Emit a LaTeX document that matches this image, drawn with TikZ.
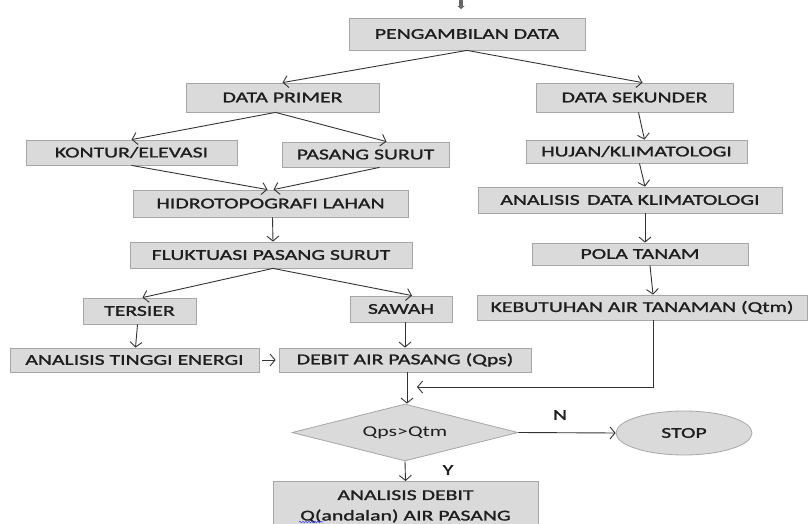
\documentclass[tikz,border=0pt]{standalone}
\usepackage{fontspec}
\setmainfont{Carlito}[FakeStretch=1.45]
\newfontfamily\boxfont{Carlito}[FakeStretch=1.45, FakeBold=1.3]
\usetikzlibrary{arrows.meta,shapes.geometric,decorations.pathmorphing}
\definecolor{boxfill}{HTML}{DADADA}
\definecolor{boxline}{HTML}{A6A6A6}
\definecolor{conn}{HTML}{333333}
\definecolor{txt}{HTML}{1E1E1E}
\begin{document}
\begin{tikzpicture}[x=1pt,y=-1pt,
  box/.style={draw=boxline, fill=boxfill, line width=0.8pt, inner sep=0pt,
    text=txt, font=\boxfont\fontsize{15}{20.5}\selectfont, align=center},
  arr/.style={draw=conn, line width=0.9pt, -{Straight Barb[length=5pt,width=12pt]}},
  lbl/.style={text=txt, font=\boxfont\fontsize{15}{17}\selectfont, inner sep=0pt}]
\useasboundingbox (0,0) rectangle (809,524);

\node[box, minimum width=236pt, minimum height=32pt] (pd) at (467,34) {PENGAMBILAN DATA};
\node[box, minimum width=193pt, minimum height=29pt] (prim) at (282.5,97.5) {DATA PRIMER};
\node[box, minimum width=197pt, minimum height=29pt] (sek) at (634.5,97.5) {DATA SEKUNDER};
\node[box, minimum width=211pt, minimum height=25pt] (kon) at (131.5,152.5) {KONTUR/ELEVASI};
\node[box, minimum width=167pt, minimum height=25pt] (ps) at (365.5,154.5) {PASANG SURUT};
\node[box, minimum width=275pt, minimum height=27pt] (hid) at (270.5,203.5) {HIDROTOPOGRAFI LAHAN};
\node[box, minimum width=282pt, minimum height=26pt] (fluk) at (271,255) {FLUKTUASI PASANG SURUT};
\node[box, minimum width=221pt, minimum height=23pt] (huj) at (636.5,151.5) {HUJAN/KLIMATOLOGI};
\node[box, minimum width=304pt, minimum height=26pt] (akl) at (630,200) {ANALISIS\enspace DATA KLIMATOLOGI};
\node[box, minimum width=216pt, minimum height=22pt] (pola) at (640,254) {POLA TANAM};
\node[box, minimum width=330pt, minimum height=25pt] (keb) at (642,307.5) {KEBUTUHAN AIR TANAMAN (Qtm)};
\node[box, minimum width=113pt, minimum height=26pt] (ters) at (139.5,311) {TERSIER};
\node[box, minimum width=102pt, minimum height=26pt] (saw) at (401,309) {SAWAH};
\node[box, minimum width=249pt, minimum height=24pt] (ati) at (134.5,360) {ANALISIS TINGGI ENERGI};
\node[box, minimum width=252pt, minimum height=24pt] (deb) at (405,360) {DEBIT AIR PASANG (Qps)};
\node[box, diamond, aspect=3.96, minimum width=226pt, minimum height=57pt,
  font=\rmfamily\fontsize{15}{17}\selectfont] (dia) at (405,432.5) {Qps>Qtm};
\node[box, ellipse, minimum width=136pt, minimum height=44pt] (stop) at (684,433) {STOP};
\node[box, minimum width=265pt, minimum height=50pt, anchor=north] (an) at (405.5,481) {ANALISIS DEBIT\\Q(andalan) AIR PASANG};

\node[lbl] (nl) at (560,415) {N};
\node[lbl] (yl) at (448,470) {Y};

\coordinate (t1) at (461,0);
\coordinate (t2) at (461,9);
\draw[line width=3.2pt, draw=gray!80!black, -{Triangle[length=3pt,width=7pt]}] (t1) -- (t2);

\draw[arr] (pd.south) -- (prim.north);
\draw[arr] (pd.south) -- ([xshift=8pt]sek.north);
\draw[arr] ([xshift=-7pt]prim.south) -- (kon.north);
\draw[arr] ([xshift=-7pt]prim.south) -- ([xshift=21pt]ps.north);
\draw[arr] (kon.south) -- ([xshift=-3pt]hid.north);
\draw[arr] ([xshift=14pt]ps.south) -- ([xshift=3pt]hid.north);
\draw[arr] ([xshift=2pt]hid.south) -- ([xshift=2pt]fluk.north);
\draw[arr] ([xshift=2pt]fluk.south) -- ([xshift=3pt]ters.north);
\draw[arr] ([xshift=2pt]fluk.south) -- ([xshift=11pt]saw.north);
\draw[arr] ([xshift=-2pt]ters.south) -- ([xshift=1pt]ati.north);
\draw[arr] ([xshift=4pt]saw.south) -- (deb.north);
\draw[arr] ([xshift=3pt]ati.east) -- ([xshift=-3pt]deb.west);
\draw[arr] ([xshift=2pt]deb.south) -- ([xshift=2pt]dia.north);
\draw[arr] ([xshift=4pt]sek.south) -- ([xshift=8pt]huj.north);
\draw[arr] ([xshift=3pt]huj.south) -- ([xshift=15pt]akl.north);
\draw[arr] ([xshift=15pt]akl.south) -- ([xshift=5pt]pola.north);
\draw[arr] ([xshift=10pt]pola.south) -- ([xshift=11pt]keb.north);
\coordinate (m) at (417,387);
\draw[arr] ([xshift=11pt]keb.south) |- (m);
\draw[arr] (dia.east) -- (stop.west);
\draw[arr] (dia.south) -- (an.north);

\coordinate (w1) at (299,522);
\coordinate (w2) at (323,522);
\draw[blue!70, line width=0.6pt, decorate, decoration={snake, amplitude=0.8pt, segment length=3pt}] (w1) -- (w2);
\end{tikzpicture}
\end{document}
